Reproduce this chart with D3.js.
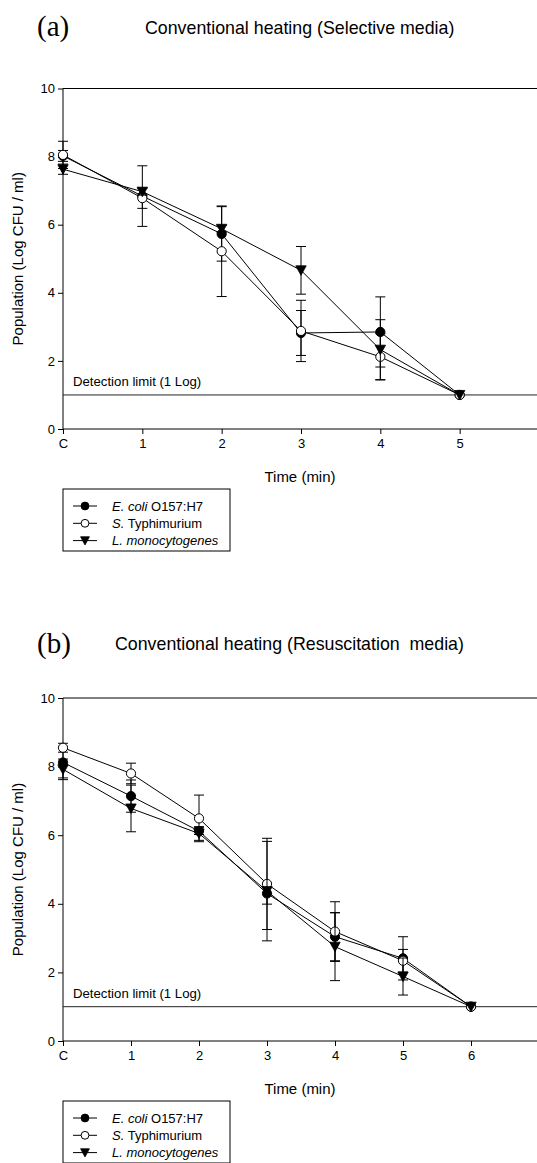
<!DOCTYPE html>
<html>
<head>
<meta charset="utf-8">
<script src="https://cdn.jsdelivr.net/npm/d3@7"></script>
<style>
  html, body { margin: 0; padding: 0; background: #fff; }
  svg { display: block; }
  text { font-family: "Liberation Sans", Arial, sans-serif; fill: #000; }
</style>
</head>
<body>
<svg id="chart" width="537" height="1163"></svg>
<script>
// Survival of three pathogens under conventional heating (log CFU/ml, mean ± SD)
const seriesNames = ["E. coli O157:H7", "S. Typhimurium", "L. monocytogenes"];
const seriesSymbols = ["filledCircle", "openCircle", "triangleDown"];

// Panel (a): selective media
const timesA = [0, 1, 2, 3, 4, 5];
const tickLabelsA = ["C", "1", "2", "3", "4", "5"];
const ecoliA = [8.02, 6.84, 5.73, 2.82, 2.85, 1.0];
const ecoliErrA = [0.16, 0.89, 0.8, 0.66, 1.03, 0];
const typhA = [8.05, 6.78, 5.22, 2.88, 2.12, 1.0];
const typhErrA = [0.4, 0.3, 1.33, 0.9, 0.68, 0];
const monoA = [7.63, 6.97, 5.88, 4.66, 2.33, 1.0];
const monoErrA = [0.15, 0.1, 0.1, 0.7, 0.88, 0];

// Panel (b): resuscitation media
const timesB = [0, 1, 2, 3, 4, 5, 6];
const tickLabelsB = ["C", "1", "2", "3", "4", "5", "6"];
const ecoliB = [8.12, 7.14, 6.12, 4.3, 3.04, 2.41, 1.0];
const ecoliErrB = [0.45, 0.47, 0.1, 0.31, 0.7, 0.63, 0];
const typhB = [8.55, 7.8, 6.49, 4.58, 3.19, 2.34, 1.0];
const typhErrB = [0.13, 0.3, 0.68, 1.33, 0.87, 0.33, 0];
const monoB = [7.92, 6.78, 6.05, 4.37, 2.75, 1.88, 1.0];
const monoErrB = [0.3, 0.68, 0.2, 1.45, 0.99, 0.54, 0];

const yTicks = [0, 2, 4, 6, 8, 10];
const detectionLimit = 1;

const svg = d3.select("#chart");

function drawPanel(cfg) {
  const g = svg.append("g");
  const x = d3.scaleLinear().domain([0, cfg.xMax]).range([63, 539]);
  const y = d3.scaleLinear().domain([0, 10]).range([cfg.y0, cfg.y10]);

  // panel letter and title
  g.append("text").attr("x", 37).attr("y", cfg.letterY)
    .style("font-family", "'Liberation Serif', 'Times New Roman', serif")
    .style("font-size", "29px").text(cfg.letter);
  g.append("text").attr("x", cfg.titleX).attr("y", cfg.titleY)
    .style("font-size", "17.8px").attr("xml:space", "preserve")
    .style("white-space", "pre").text(cfg.title);

  // top frame line at y = 10
  g.append("line").attr("x1", 63).attr("x2", 537)
    .attr("y1", y(10)).attr("y2", y(10))
    .attr("stroke", "#000").attr("stroke-width", 1);

  // axes
  const yAxis = d3.axisLeft(y).tickValues(yTicks).tickSize(5).tickPadding(3).tickFormat(d3.format("d"));
  const gy = g.append("g").attr("transform", "translate(63,0)").call(yAxis);
  gy.select(".domain").attr("d", `M0,${y(10)}V${y(0)}`);
  const xAxis = d3.axisBottom(x).tickValues(cfg.times).tickSize(5).tickPadding(5)
    .tickFormat((d, i) => cfg.tickLabels[i]);
  const gx = g.append("g").attr("transform", `translate(0,${y(0)})`).call(xAxis);
  gx.select(".domain").attr("d", "M63,0H537");
  [gx, gy].forEach(a => {
    a.selectAll("text").style("font-family", "'Liberation Sans', Arial, sans-serif").style("font-size", "13px");
    a.selectAll("line, path").attr("stroke", "#000");
  });

  // axis titles
  g.append("text").attr("transform", `translate(23,${(y(0) + y(10)) / 2}) rotate(-90)`)
    .attr("text-anchor", "middle").style("font-size", "15px").text("Population (Log CFU / ml)");
  g.append("text").attr("x", 300).attr("y", y(0) + 53)
    .attr("text-anchor", "middle").style("font-size", "15px").text("Time (min)");

  // detection limit
  g.append("line").attr("x1", 63).attr("x2", 537)
    .attr("y1", y(detectionLimit)).attr("y2", y(detectionLimit))
    .attr("stroke", "#222").attr("stroke-width", 1);
  g.append("text").attr("x", 73).attr("y", y(detectionLimit) - 8.5)
    .style("font-size", "13.2px").text("Detection limit (1 Log)");

  // series: line, error bars, symbols
  const line = d3.line().x(d => x(d.t)).y(d => y(d.v));
  cfg.series.forEach((s, k) => {
    const pts = cfg.times.map((t, i) => ({ t, v: s.values[i], e: s.errors[i] }));
    const sg = g.append("g");
    sg.append("path").datum(pts).attr("d", line)
      .attr("fill", "none").attr("stroke", "#000").attr("stroke-width", 1);
    pts.filter(p => p.e > 0).forEach(p => {
      const cx = x(p.t), hi = y(p.v + p.e), lo = y(p.v - p.e);
      sg.append("path")
        .attr("d", `M${cx},${hi}V${lo}M${cx - 5},${hi}H${cx + 5}M${cx - 5},${lo}H${cx + 5}`)
        .attr("stroke", "#000").attr("stroke-width", 1).attr("fill", "none");
    });
    drawSymbols(sg, pts.map(p => [x(p.t), y(p.v)]), seriesSymbols[k]);
  });

  // legend
  const lx = 63, ly = cfg.legendY, lw = 167, lh = 62;
  g.append("rect").attr("x", lx).attr("y", ly).attr("width", lw).attr("height", lh)
    .attr("fill", "#fff").attr("stroke", "#000").attr("stroke-width", 1);
  seriesNames.forEach((name, k) => {
    const ry = ly + 17 + k * 17.3;
    g.append("line").attr("x1", 73).attr("x2", 97).attr("y1", ry).attr("y2", ry)
      .attr("stroke", "#000").attr("stroke-width", 1);
    drawSymbols(g, [[85, ry]], seriesSymbols[k], 0.85);
    const t = g.append("text").attr("x", 112).attr("y", ry + 4.5).style("font-size", "13px");
    if (k === 0) {
      t.append("tspan").style("font-style", "italic").text("E. coli");
      t.append("tspan").text(" O157:H7");
    } else if (k === 1) {
      t.append("tspan").style("font-style", "italic").text("S.");
      t.append("tspan").text(" Typhimurium");
    } else {
      t.append("tspan").style("font-style", "italic").text(name);
    }
  });
}

function drawSymbols(sel, coords, kind, scale = 1) {
  const r = 4.6 * scale;
  coords.forEach(([cx, cy]) => {
    if (kind === "triangleDown") {
      const w = 5.2 * scale, h = 4.5 * scale;
      sel.append("path")
        .attr("d", `M${cx - w},${cy - h}L${cx + w},${cy - h}L${cx},${cy + h + 0.5}Z`)
        .attr("fill", "#000").attr("stroke", "#000").attr("stroke-width", 0.8);
    } else {
      sel.append("circle").attr("cx", cx).attr("cy", cy).attr("r", r)
        .attr("fill", kind === "openCircle" ? "#fff" : "#000")
        .attr("stroke", "#000").attr("stroke-width", 1);
    }
  });
}

drawPanel({
  letter: "(a)", title: "Conventional heating (Selective media)",
  titleX: 145, titleY: 33.5, letterY: 36,
  xMax: 6, y0: 429, y10: 88.5,
  times: timesA, tickLabels: tickLabelsA, legendY: 489,
  series: [
    { values: ecoliA, errors: ecoliErrA },
    { values: typhA, errors: typhErrA },
    { values: monoA, errors: monoErrA }
  ]
});

drawPanel({
  letter: "(b)", title: "Conventional heating (Resuscitation  media)",
  titleX: 115, titleY: 650, letterY: 653,
  xMax: 7, y0: 1041, y10: 698,
  times: timesB, tickLabels: tickLabelsB, legendY: 1101,
  series: [
    { values: ecoliB, errors: ecoliErrB },
    { values: typhB, errors: typhErrB },
    { values: monoB, errors: monoErrB }
  ]
});
</script>
</body>
</html>
